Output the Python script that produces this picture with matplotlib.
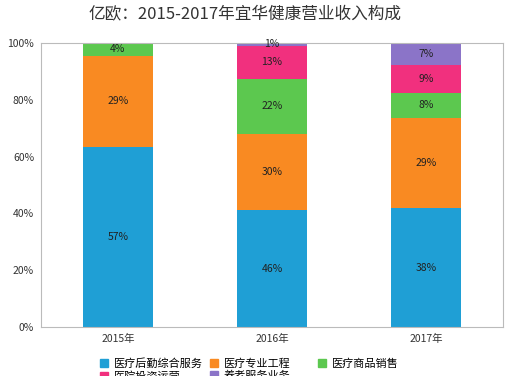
import numpy as np
import matplotlib
matplotlib.use("Agg")
import matplotlib.pyplot as plt
from matplotlib.patches import Patch

plt.rcParams['font.family'] = ['Noto Sans CJK SC', 'DejaVu Sans']

years = ["2015年", "2016年", "2017年"]
segments = ["医疗后勤综合服务", "医疗专业工程", "医疗商品销售", "医院投资运营", "养老服务业务"]
pct_back = [57, 46, 38]
pct_eng = [29, 30, 29]
pct_goods = [4, 22, 8]
pct_hosp = [0, 13, 9]
pct_elder = [0, 1, 7]
colors = ["#1f9fd5", "#f98a22", "#5cc84f", "#f1307e", "#8b74c8"]

series = np.array([pct_back, pct_eng, pct_goods, pct_hosp, pct_elder], dtype=float)
shares = series / series.sum(axis=0) * 100

fig = plt.figure(figsize=(5.07, 3.76), dpi=100)
ax = fig.add_axes([41 / 507, 1 - 327 / 376, 462 / 507, 284 / 376])

x = np.arange(len(years))
bottom = np.zeros(len(years))
for vals, shr, c in zip(series, shares, colors):
    ax.bar(x, shr, bottom=bottom, width=0.45, color=c, linewidth=0)
    for xi, v, s, b in zip(x, vals, shr, bottom):
        if v > 0:
            ax.text(xi, b + s / 2, f"{v:.0f}%", ha="center", va="center",
                    fontsize=7.5, color="#222222")
    bottom += shr

ax.set_xlim(-0.5, 2.5)
ax.set_ylim(0, 100)
ax.set_yticks(range(0, 101, 20))
ax.set_yticklabels([f"{t}%" for t in range(0, 101, 20)])
ax.set_xticks(x)
ax.set_xticklabels(years)
ax.tick_params(length=0, labelsize=7.5, colors="#333333", pad=5)
for s in ax.spines.values():
    s.set_color("#bbbbbb")
    s.set_linewidth(0.8)

fig.text(0.484, 0.96, "亿欧：2015-2017年宜华健康营业收入构成", ha="center", va="center",
         fontsize=12, color="#333333")

# legend: fixed-width columns, row by row, second row clipped as in the source
columns = [[0, 3], [1, 4], [2]]
col_x = [0.187, 0.404, 0.617]
for idx, cx in zip(columns, col_x):
    leg = fig.legend([Patch(color=colors[i]) for i in idx], [segments[i] for i in idx],
                     loc="upper left", bbox_to_anchor=(cx, 0.062), frameon=False,
                     fontsize=8, handlelength=0.7, handleheight=0.7,
                     handletextpad=0.5, labelspacing=0.15, borderpad=0)

fig.savefig("out.png", dpi=100)
